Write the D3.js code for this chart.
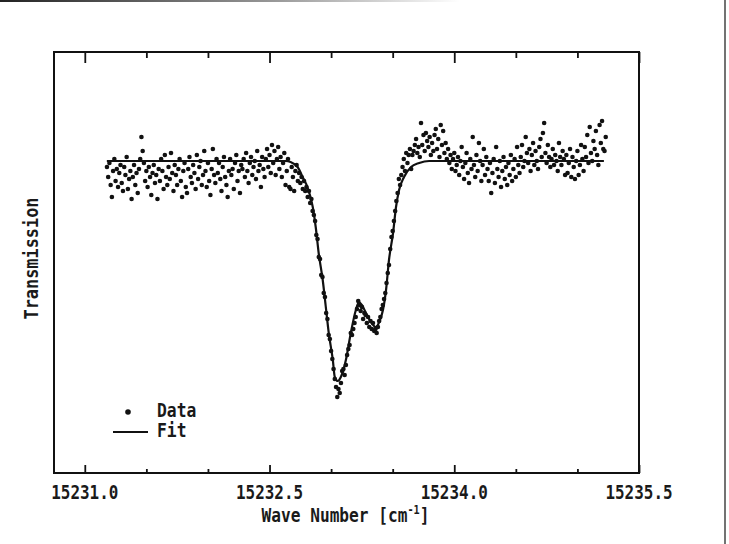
<!DOCTYPE html>
<html>
<head>
<meta charset="utf-8">
<script src="https://cdn.jsdelivr.net/npm/d3@7"></script>
<style>
  body { margin: 0; background: #fff; }
  text { font-family: "DejaVu Sans Mono", monospace; fill: #1a1a1a; font-weight: bold; }
</style>
</head>
<body>
<div id="chart"></div>
<script>
// measured spectrum, sampled on a regular wave number grid
const gridStart = 15231.18;
const gridStep = 0.01;

// transmission (arbitrary units, baseline = 100)
const transLeft = [
  98.5, 96.0, 99.5, 94.0, 91.0, 97.5, 100.5, 95.0, 98.0, 93.5,
  97.0, 99.0, 94.5, 92.5, 98.5, 96.5, 101.0, 93.0, 95.5, 97.5,
  90.5, 96.0, 99.0, 94.0, 97.0, 92.0, 98.0, 100.5, 106.0, 102.5,
  99.5, 95.0, 97.5, 93.5, 98.5, 96.0, 91.5, 97.0, 99.0, 94.5,
  96.5, 90.5, 98.0, 95.0, 100.5, 97.5, 93.0, 101.5, 96.0, 94.0,
  98.5, 95.5, 102.0, 97.0, 92.5, 99.0, 96.5, 94.0, 98.0, 100.5,
  95.0, 91.0, 97.5, 99.5, 93.5, 92.0, 98.0, 101.0, 96.0, 94.5,
  99.0, 97.0, 93.0, 101.5, 95.5, 98.5, 100.0, 94.0, 96.5, 102.5,
  97.5, 93.5, 99.5, 95.0, 91.5, 98.0, 103.0, 96.5, 94.5, 100.5,
  97.0, 99.5, 95.5, 92.5, 98.5, 101.0, 96.0, 94.0, 91.0, 97.5,
  100.5, 96.5, 98.0, 93.0, 99.5, 101.5, 95.0, 97.5, 92.0, 99.0,
  98.0, 100.5, 96.0, 102.0, 97.5, 94.5, 99.5, 101.0, 96.5, 98.5,
  100.0, 95.5, 102.5, 97.5, 99.0, 93.5, 101.0, 98.0, 96.0, 100.5,
  103.0, 98.5, 101.5, 97.0, 104.0, 99.5, 102.5, 96.5, 100.5, 103.5,
  98.0, 101.0, 96.0, 99.5, 102.0, 94.0, 97.5, 100.5, 93.5
];

const transDip = [
  93.0, 98.5, 96.0, 92.5, 97.5, 99.0, 95.0, 97.0, 94.5, 96.0,
  93.0, 95.0, 92.5, 93.5, 91.0, 92.5, 89.5, 90.5, 87.5, 86.5,
  85.0, 81.5, 80.5, 76.0, 75.5, 71.5, 71.0, 67.0, 66.0, 62.0,
  60.5, 56.5, 55.5, 52.5, 50.5, 48.0, 45.5, 43.5, 41.0, 43.0,
  42.0, 44.5, 47.5, 48.0, 46.5, 49.0, 51.5, 53.0, 54.0, 57.0,
  56.5, 58.0, 59.5, 61.0, 63.0, 65.0, 64.0, 62.5, 63.5, 60.5,
  62.0, 61.5, 59.5, 61.0, 58.5, 60.0, 58.0, 59.5, 57.5, 58.0,
  57.0, 58.5, 60.0, 61.0, 63.0, 64.0, 65.5, 67.0, 69.5, 72.0,
  74.0, 78.0, 81.0, 82.5, 85.0, 87.5, 90.0, 92.0, 95.5, 94.0,
  96.5, 98.5, 100.5, 97.5, 102.0, 99.5, 101.5, 103.0, 98.0, 101.5,
  102.5, 104.0, 105.5, 102.0, 103.5, 101.0
];

const transRight = [
  109.5, 104.0, 106.5, 102.5, 107.0, 105.0, 103.5, 106.0, 101.5, 104.5,
  102.5, 106.5, 108.0, 103.0, 105.5, 101.0, 109.0, 104.0, 107.5, 102.0,
  104.5, 100.5, 103.0, 99.5, 101.5, 98.0, 100.5, 102.0, 97.5, 99.0,
  101.0, 96.5, 100.0, 103.5, 98.5, 95.5, 99.5, 102.0, 97.0, 94.5,
  100.5, 98.0, 106.0, 99.0, 96.0, 101.5, 97.5, 104.5, 100.0, 95.0,
  99.0, 103.0, 96.5, 101.0, 98.0, 95.0, 99.5, 92.0, 97.0, 100.5,
  94.5, 103.5, 98.0, 96.0, 100.0, 93.5, 97.5, 101.0, 95.5, 98.5,
  94.0, 99.5, 96.5, 101.5, 95.0, 98.0, 100.5, 96.0, 103.5, 99.0,
  97.0, 101.0, 104.0, 98.5, 100.0, 106.0, 102.0, 99.5, 103.0, 97.5,
  101.5, 104.5, 99.0, 102.5, 100.0, 98.0, 103.5, 105.5, 101.0, 107.0,
  109.5, 102.0, 99.5, 104.0, 101.0, 98.5, 100.5, 103.0, 99.0, 101.5,
  100.0, 97.5, 104.5, 101.0, 99.0, 102.5, 100.5, 96.5, 101.5, 97.0,
  99.5, 103.0, 96.0, 101.0, 98.5, 95.5, 100.0, 102.5, 96.5, 99.0,
  104.0, 100.5, 97.5, 103.5, 101.0, 106.5, 99.5, 108.5, 102.0, 100.0,
  105.0, 103.0, 107.5, 101.5, 99.0, 109.0, 104.5, 110.0, 103.0, 102.5,
  106.0
];

// fitted line profile
const fitWave = [
  15231.179, 15231.938, 15232.630, 15232.671, 15232.728, 15232.769,
  15232.810, 15232.851, 15232.875, 15232.899, 15232.932, 15232.957,
  15232.981, 15233.014, 15233.030, 15233.054, 15233.079, 15233.120,
  15233.160, 15233.201, 15233.226, 15233.250, 15233.283, 15233.323,
  15233.364, 15233.397, 15233.421, 15233.446, 15233.470, 15233.503,
  15233.527, 15233.552, 15233.592, 15233.649, 15233.715, 15233.796,
  15234.500, 15235.215
];
const fitTrans = [
  100, 100, 100, 99.75, 98.5, 96.0,
  93.25, 88.5, 83.5, 77.0, 70.25, 63.5,
  57.0, 50.25, 46.0, 45.0, 46.0, 50.25,
  57.0, 62.75, 64.75, 64.0, 62.0, 59.75,
  58.5, 60.25, 62.75, 67.75, 75.25, 82.0,
  88.5, 92.75, 96.0, 98.5, 99.5, 100,
  100, 100
];

const xTicks = [15231.0, 15232.5, 15234.0, 15235.5];
const xMinorTicks = [15231.5, 15232.0, 15233.0, 15233.5, 15234.5, 15235.0];

const width = 729;
const height = 544;
const margin = { top: 52, right: 90, bottom: 71, left: 54 };

const svg = d3
  .select("#chart")
  .append("svg")
  .attr("width", width)
  .attr("height", height);

// scan edges of the page
const grad = svg.append("defs").append("linearGradient").attr("id", "edge");
grad.append("stop").attr("offset", "0%").attr("stop-color", "#222");
grad.append("stop").attr("offset", "60%").attr("stop-color", "#999");
grad.append("stop").attr("offset", "100%").attr("stop-color", "#fff");
svg.append("rect").attr("x", 0).attr("y", 0).attr("width", 460).attr("height", 2).attr("fill", "url(#edge)");
svg.append("line")
  .attr("x1", 725).attr("x2", 725).attr("y1", 0).attr("y2", height)
  .attr("stroke", "#444").attr("stroke-width", 1.5);

const x = d3
  .scaleLinear()
  .domain([15230.75, 15235.5])
  .range([margin.left, width - margin.right]);

const y = d3
  .scaleLinear()
  .domain([22, 127.25])
  .range([height - margin.bottom, margin.top]);

const points = transLeft
  .concat(transDip, transRight)
  .map((t, i) => ({ wave: gridStart + i * gridStep, trans: t }));

const fit = fitWave.map((w, i) => ({ wave: w, trans: fitTrans[i] }));

// axes: ticks drawn inward on bottom and top
const x0 = margin.left, x1 = width - margin.right;
const yTop = margin.top, yBot = height - margin.bottom;

svg.append("g")
  .attr("transform", `translate(0,${yBot})`)
  .call(d3.axisBottom(x).tickValues(xTicks).tickSize(-8).tickFormat(""))
  .call((g) => g.select(".domain").remove());
svg.append("g")
  .attr("transform", `translate(0,${yBot})`)
  .call(d3.axisBottom(x).tickValues(xMinorTicks).tickSize(-4).tickFormat(""))
  .call((g) => g.select(".domain").remove());
svg.append("g")
  .attr("transform", `translate(0,${yTop})`)
  .call(d3.axisTop(x).tickValues(xTicks).tickSize(-11).tickFormat(""))
  .call((g) => g.select(".domain").remove());
svg.append("g")
  .attr("transform", `translate(0,${yTop})`)
  .call(d3.axisTop(x).tickValues(xMinorTicks).tickSize(-6).tickFormat(""))
  .call((g) => g.select(".domain").remove());
svg.selectAll(".tick line").attr("stroke", "#111").attr("stroke-width", 1.8);

svg.append("rect")
  .attr("x", x0).attr("y", yTop)
  .attr("width", x1 - x0).attr("height", yBot - yTop)
  .attr("fill", "none").attr("stroke", "#111").attr("stroke-width", 2);

// tick labels
svg.append("g")
  .selectAll("g")
  .data(xTicks)
  .enter()
  .append("g")
  .attr("transform", (d) => `translate(${x(d)},${yBot + 26}) scale(0.84,1)`)
  .append("text")
  .attr("text-anchor", "middle")
  .style("font-size", "19px")
  .text((d) => d3.format(".1f")(d));

// axis titles
const xt = svg.append("g")
  .attr("transform", `translate(${(x0 + x1) / 2 - 1},${yBot + 49}) scale(0.85,1)`)
  .append("text")
  .attr("text-anchor", "middle")
  .style("font-size", "19px");
xt.append("tspan").text("Wave Number [cm");
xt.append("tspan").attr("dy", -8).style("font-size", "12px").text("-1");
xt.append("tspan").attr("dy", 8).text("]");

svg.append("g")
  .attr("transform", `translate(38,${(yTop + yBot) / 2 - 4}) rotate(-90) scale(0.89,1)`)
  .append("text")
  .attr("text-anchor", "middle")
  .style("font-size", "19px")
  .text("Transmission");

// data + fit
svg.append("g")
  .selectAll("circle")
  .data(points)
  .enter()
  .append("circle")
  .attr("cx", (d) => x(d.wave))
  .attr("cy", (d) => y(d.trans))
  .attr("r", 2.3)
  .attr("fill", "#111");

svg.append("path")
  .datum(fit)
  .attr("fill", "none")
  .attr("stroke", "#111")
  .attr("stroke-width", 2.2)
  .attr("d", d3.line().x((d) => x(d.wave)).y((d) => y(d.trans)).curve(d3.curveMonotoneX));

// legend
const legend = svg.append("g").attr("transform", "translate(113,412)");
legend.append("circle").attr("cx", 15).attr("cy", 0).attr("r", 2.8).attr("fill", "#111");
legend.append("line")
  .attr("x1", 0).attr("x2", 35).attr("y1", 20).attr("y2", 20)
  .attr("stroke", "#111").attr("stroke-width", 1.8);
legend.append("g").attr("transform", "translate(44,5) scale(0.86,1)")
  .append("text").style("font-size", "19px").text("Data");
legend.append("g").attr("transform", "translate(44,25) scale(0.86,1)")
  .append("text").style("font-size", "19px").text("Fit");
</script>
</body>
</html>
